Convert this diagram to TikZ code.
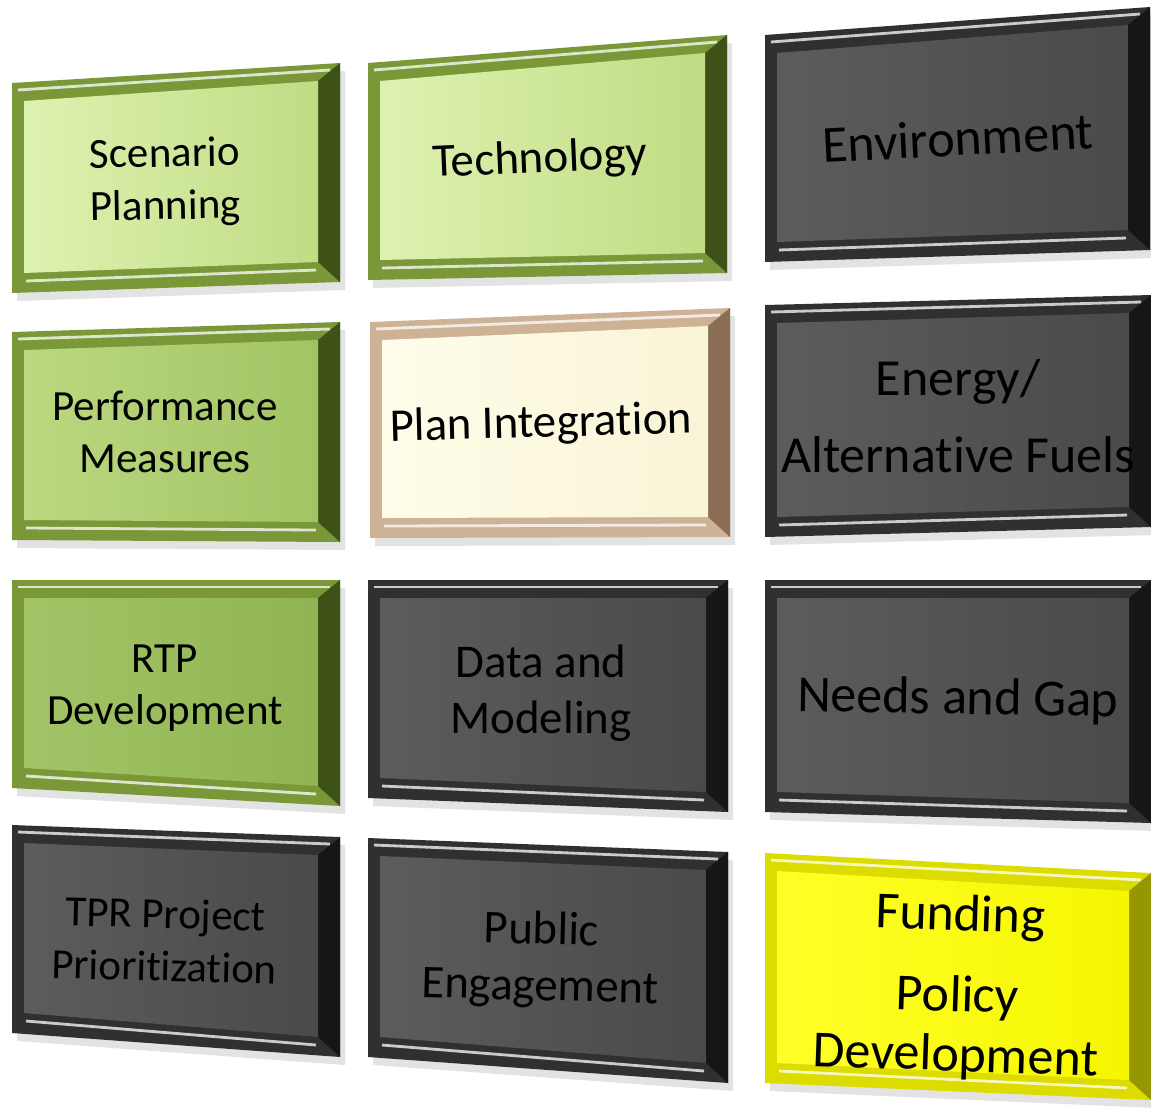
\documentclass[tikz,border=0pt]{standalone}
\usepackage{fontspec}
\setmainfont{Carlito}[Ligatures={CommonOff,ContextualOff,RequiredOff,RareOff}, RawFeature={-liga;-clig;-calt}]
\usetikzlibrary{calc}

\definecolor{paleA}{RGB}{222,242,176}
\definecolor{paleB}{RGB}{192,220,132}
\definecolor{leafA}{RGB}{188,216,128}
\definecolor{leafB}{RGB}{162,196,100}
\definecolor{mossA}{RGB}{162,196,102}
\definecolor{mossB}{RGB}{144,180,84}
\definecolor{rimgreen}{RGB}{122,152,56}
\definecolor{edgegreen}{RGB}{62,82,24}
\definecolor{creamA}{RGB}{255,253,234}
\definecolor{creamB}{RGB}{249,244,214}
\definecolor{rimtan}{RGB}{206,178,150}
\definecolor{edgetan}{RGB}{138,110,86}
\definecolor{slateA}{RGB}{92,92,92}
\definecolor{slateB}{RGB}{74,74,74}
\definecolor{rimgrey}{RGB}{48,48,48}
\definecolor{edgegrey}{RGB}{22,22,22}
\definecolor{lemonA}{RGB}{255,255,40}
\definecolor{lemonB}{RGB}{246,246,0}
\definecolor{rimyellow}{RGB}{220,220,0}
\definecolor{edgeyellow}{RGB}{150,150,0}

\tikzset{
  shadow/.style={fill=gray!22},
  gleam/.style={draw=white, opacity=0.75, line width=1.6pt},
  pale face/.style={left color=paleA, right color=paleB},
  pale rim/.style={fill=rimgreen},
  pale edge/.style={fill=edgegreen},
  leaf face/.style={left color=leafA, right color=leafB},
  leaf rim/.style={fill=rimgreen},
  leaf edge/.style={fill=edgegreen},
  moss face/.style={left color=mossA, right color=mossB},
  moss rim/.style={fill=rimgreen},
  moss edge/.style={fill=edgegreen},
  cream face/.style={left color=creamA, right color=creamB},
  cream rim/.style={fill=rimtan},
  cream edge/.style={fill=edgetan},
  slate face/.style={left color=slateA, right color=slateB},
  slate rim/.style={fill=rimgrey},
  slate edge/.style={fill=edgegrey},
  lemon face/.style={left color=lemonA, right color=lemonB},
  lemon rim/.style={fill=rimyellow},
  lemon edge/.style={fill=edgeyellow},
  lblA/.style={align=center, font=\fontsize{24.5}{30}\selectfont},
  lblB/.style={align=center, font=\fontsize{26.7}{32}\selectfont},
  lblC/.style={align=center, font=\fontsize{29.6}{34}\selectfont},
}

% #1 theme, #2 top left, #3 top right, #4 bottom right, #5 bottom left
\newcommand{\bevelbox}[5]{%
  \fill[shadow] ($#2+(5,8)$) -- ($#3+(5,8)$) -- ($#4+(5,8)$) -- ($#5+(5,8)$) -- cycle;
  \fill[#1 rim] #2 -- #3 -- #4 -- #5 -- cycle;
  \fill[#1 edge] #3 -- #4 -- ($#4+(-22,-20)$) -- ($#3+(-22,18)$) -- cycle;
  \shade[#1 face] ($#2+(12,18)$) -- ($#3+(-22,18)$) -- ($#4+(-22,-20)$) -- ($#5+(12,-20)$) -- cycle;
  \draw[gleam] ($#2+(6,7)$) -- ($#3+(-10,7)$);
  \draw[gleam] ($#5+(14,-12)$) -- ($#4+(-24,-12)$);
}

\begin{document}
\begin{tikzpicture}[x=0.02cm, y=-0.02cm]
  \useasboundingbox (0,0) rectangle (1151,1109);

  \bevelbox{pale}{(12,83)}{(340,63)}{(340,282)}{(12,293)}
  \bevelbox{pale}{(368,63)}{(727,35)}{(727,273)}{(368,280)}
  \bevelbox{slate}{(765,35)}{(1150,7)}{(1150,250)}{(765,262)}
  \bevelbox{leaf}{(12,332)}{(340,322)}{(340,542)}{(12,540)}
  \bevelbox{cream}{(370,322)}{(730,308)}{(730,537)}{(370,538)}
  \bevelbox{slate}{(765,305)}{(1151,295)}{(1151,527)}{(765,537)}
  \bevelbox{moss}{(12,580)}{(340,580)}{(340,806)}{(12,788)}
  \bevelbox{slate}{(368,580)}{(728,580)}{(728,812)}{(368,798)}
  \bevelbox{slate}{(765,580)}{(1151,580)}{(1151,823)}{(765,812)}
  \bevelbox{slate}{(12,825)}{(340,837)}{(340,1057)}{(12,1033)}
  \bevelbox{slate}{(368,838)}{(728,852)}{(728,1083)}{(368,1057)}
  \bevelbox{lemon}{(765,853)}{(1151,873)}{(1151,1100)}{(765,1083)}

  \node[lblA, rotate=1] (scenario) at (165,182) {Scenario\\Planning};
  \node[lblB, rotate=2.5] (technology) at (540,160) {Technology};
  \node[lblC, rotate=3] (environment) at (958,138) {Environment};
  \node[lblA] (performance) at (165,432) {Performance\\Measures};
  \node[lblB, rotate=1.5] (integration) at (541,425) {Plan Integration};
  \node[lblC] (energy) at (958,416) {Energy/\\[10pt]Alternative Fuels};
  \node[lblA] (rtp) at (165,688) {RTP\\Development};
  \node[lblB] (data) at (541,693) {Data and\\Modeling};
  \node[lblC, rotate=-1] (needs) at (958,700) {Needs and Gap};
  \node[lblA, rotate=-1.5] (tpr) at (165,940) {TPR Project\\Prioritization};
  \node[lblB, rotate=-1.5] (public) at (541,960) {Public\\Engagement};
  \node[lblC, rotate=-2] (funding) at (958,987) {Funding\\[12pt]Policy\\Development};
\end{tikzpicture}
\end{document}
